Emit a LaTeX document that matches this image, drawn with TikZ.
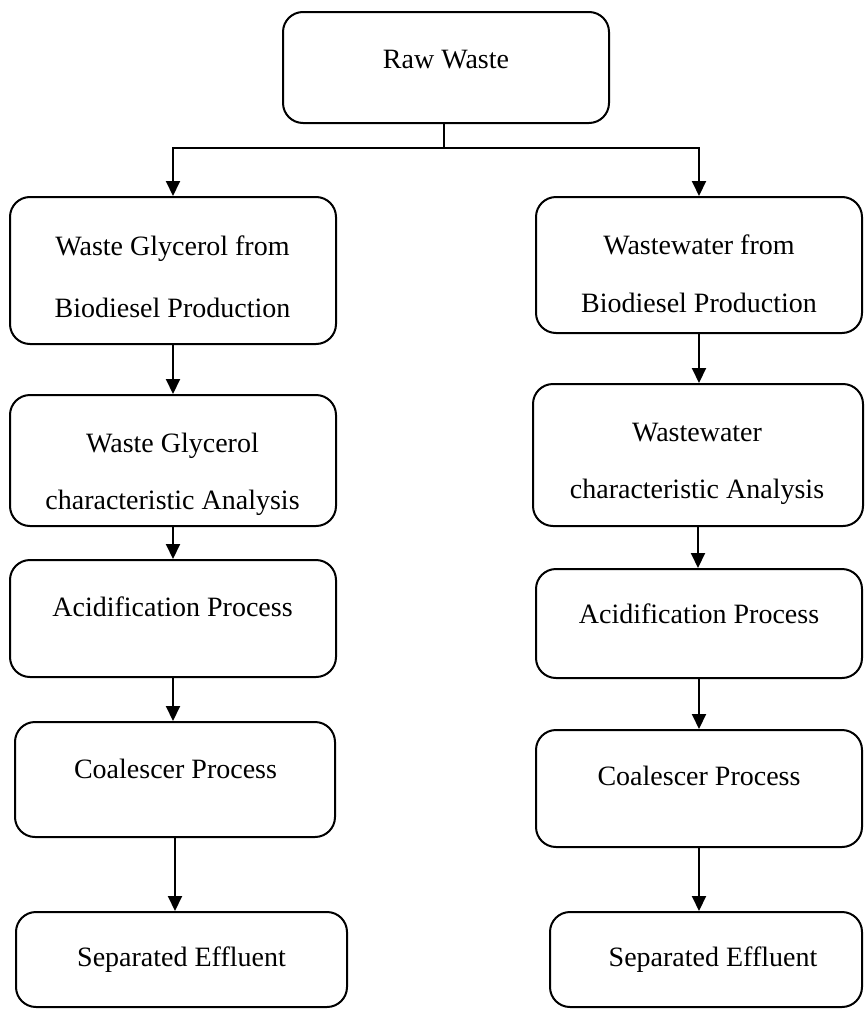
\documentclass[tikz,border=0pt]{standalone}
\usepackage{fontspec}
\setmainfont{Liberation Serif}
\usetikzlibrary{arrows.meta}
\begin{document}
\begin{tikzpicture}[x=1pt,y=-1pt]
\tikzset{
 box/.style={draw, line width=2pt, rounded corners=20pt, inner sep=0pt},
 lbl/.style={font=\fontsize{28}{32}\selectfont, anchor=base, inner sep=0pt},
 arr/.style={line width=2pt, -{Triangle[length=15pt,width=14pt]}},
 ln/.style={line width=2pt}
}
\useasboundingbox (0,0) rectangle (867,1009);
% boxes
\node[box, minimum width=326pt, minimum height=111pt] (Raw) at (446,67.5) {};
\node[box, minimum width=326pt, minimum height=147pt] (L1) at (173,270.5) {};
\node[box, minimum width=326pt, minimum height=131pt] (L2) at (173,460.5) {};
\node[box, minimum width=326pt, minimum height=117pt] (L3) at (173,618.5) {};
\node[box, minimum width=320pt, minimum height=115pt] (L4) at (175,779.5) {};
\node[box, minimum width=331pt, minimum height=95pt] (L5) at (181.5,959.5) {};
\node[box, minimum width=326pt, minimum height=136pt] (R1) at (699,265) {};
\node[box, minimum width=330pt, minimum height=142pt] (R2) at (698,455) {};
\node[box, minimum width=326pt, minimum height=109pt] (R3) at (699,623.5) {};
\node[box, minimum width=326pt, minimum height=117pt] (R4) at (699,788.5) {};
\node[box, minimum width=312pt, minimum height=95pt] (R5) at (706,959.5) {};
% texts
\node[lbl] (tRaw) at (446,68) {Raw Waste};
\node[lbl] (tL1a) at (172.5,255) {Waste Glycerol from};
\node[lbl] (tL1b) at (172.5,317) {Biodiesel Production};
\node[lbl] (tL2a) at (172.5,452) {Waste Glycerol};
\node[lbl] (tL2b) at (172.5,509) {characteristic Analysis};
\node[lbl] (tL3) at (172.5,616) {Acidification Process};
\node[lbl] (tL4) at (175.5,778) {Coalescer Process};
\node[lbl] (tL5) at (181.5,966) {Separated Effluent};
\node[lbl] (tR1a) at (699,254) {Wastewater from};
\node[lbl] (tR1b) at (699,312) {Biodiesel Production};
\node[lbl] (tR2a) at (697,441) {Wastewater};
\node[lbl] (tR2b) at (697,498) {characteristic Analysis};
\node[lbl] (tR3) at (699,623) {Acidification Process};
\node[lbl] (tR4) at (699,785) {Coalescer Process};
\node[lbl] (tR5) at (713,966) {Separated Effluent};
% connectors
\coordinate (J) at (444,148);
\draw[ln] (Raw.south -| J) -- (J);
\draw[arr] (J) -| (L1.north);
\draw[arr] (J) -| (R1.north);
\draw[arr] (L1.south) -- (L1.south |- L2.north);
\draw[arr] (L2.south) -- (L2.south |- L3.north);
\draw[arr] (L3.south) -- (L3.south |- L4.north);
\draw[arr] (L4.south) -- (L4.south |- L5.north);
\draw[arr] (R1.south) -- (R1.south |- R2.north);
\draw[arr] (R2.south) -- (R2.south |- R3.north);
\draw[arr] (R3.south) -- (R3.south |- R4.north);
\draw[arr] (R4.south) -- (R4.south |- R5.north);
\end{tikzpicture}
\end{document}
